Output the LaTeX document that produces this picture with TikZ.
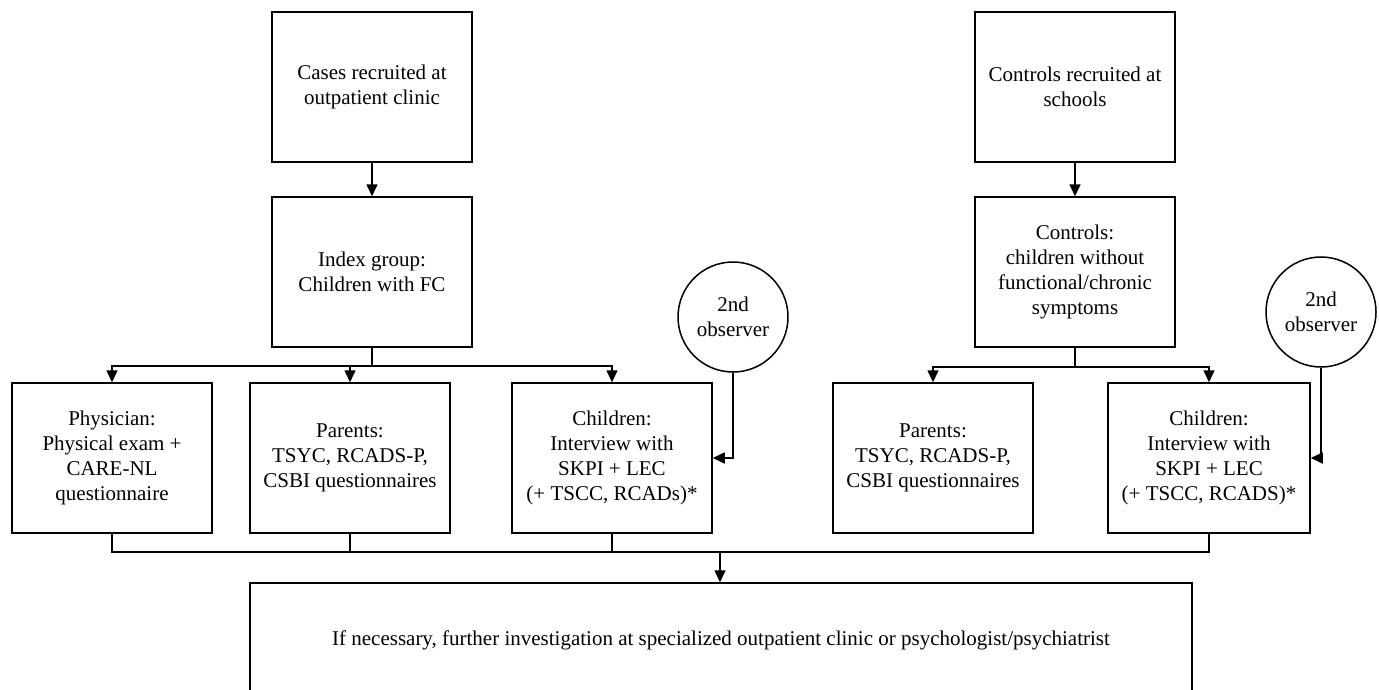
\documentclass[tikz,border=0pt]{standalone}
\usepackage{fontspec}
\setmainfont{Liberation Serif}
\usetikzlibrary{arrows.meta}
\begin{document}
\begin{tikzpicture}[x=1pt,y=-1pt,
  every node/.style={font=\fontsize{21}{25}\selectfont},
  box/.style={draw, line width=1.5pt, align=center, inner sep=0pt,
    minimum width=200pt, minimum height=150pt},
  obsv/.style={draw, circle, line width=1.5pt, align=center, inner sep=0pt, minimum size=110pt},
  conn/.style={line width=1.6pt},
  arr/.style={line width=1.6pt, -{Triangle[length=12pt,width=11pt]}}]
\useasboundingbox (0,0) rectangle (1379,690);
\clip (0,0) rectangle (1379,690);
% top row
\node[box] (caseTop) at (372,87) {Cases recruited at\\outpatient clinic};
\node[box] (caseIdx) at (372,272) {Index group:\\Children with FC};
\node[box] (ctrlTop) at (1075,87) {Controls recruited at\\schools};
\node[box] (ctrlIdx) at (1075,272) {Controls:\\children without\\functional/chronic\\symptoms};
% observers
\node[obsv] (obs1) at (733,317) {2nd\\observer};
\node[obsv] (obs2) at (1321,312) {2nd\\observer};
% second row
\node[box] (phys) at (112,458) {Physician:\\Physical exam +\\CARE-NL\\questionnaire};
\node[box] (par1) at (350,458) {Parents:\\TSYC, RCADS-P,\\CSBI questionnaires};
\node[box] (chi1) at (612,458) {Children:\\Interview with\\SKPI + LEC\\(+ TSCC, RCADs)*};
\node[box] (par2) at (933,458) {Parents:\\TSYC, RCADS-P,\\CSBI questionnaires};
\node[box, minimum width=202pt] (chi2) at (1209,458) {Children:\\Interview with\\SKPI + LEC\\(+ TSCC, RCADS)*};
% final
\node[box, minimum width=942pt, minimum height=114pt] (final) at (721,640) {If necessary, further investigation at specialized outpatient clinic or psychologist/psychiatrist};
% coordinates
\coordinate (lb) at (372,366);
\coordinate (rb) at (1075,367);
\coordinate (bb) at (720,552);
% connectors
\draw[arr] (caseTop) -- (caseIdx);
\draw[arr] (ctrlTop) -- (ctrlIdx);
\draw[conn] (caseIdx.south) -- (lb);
\draw[arr] (lb) -| (phys.north);
\draw[arr] (lb) -| (par1.north);
\draw[arr] (lb) -| (chi1.north);
\draw[conn] (ctrlIdx.south) -- (rb);
\draw[arr] (rb) -| (par2.north);
\draw[arr] (rb) -| (chi2.north);
\draw[arr] (obs1.south) |- (chi1.east);
\draw[arr] (obs2.south) |- (chi2.east);
\draw[conn] (phys.south) |- (bb);
\draw[conn] (par1.south) -- (par1.south |- bb);
\draw[conn] (chi1.south) -- (chi1.south |- bb);
\draw[conn] (chi2.south) |- (bb);
\draw[arr] (bb) -- (final.north -| bb);
\end{tikzpicture}
\end{document}
